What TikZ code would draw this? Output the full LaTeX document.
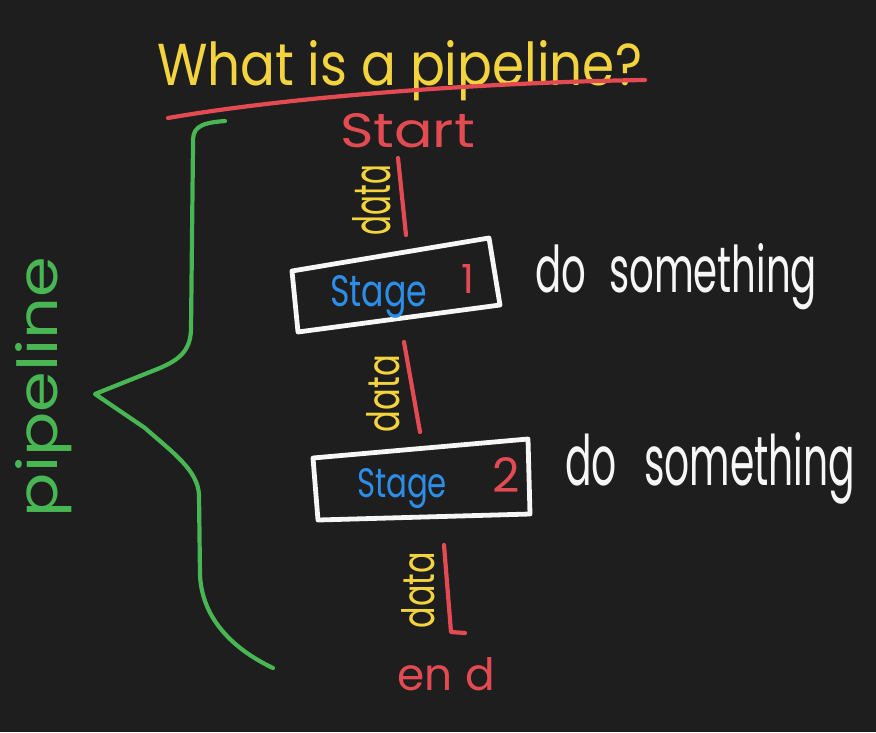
\documentclass[tikz,border=0pt]{standalone}
\usepackage{fontspec}
\usepackage{graphicx}
\setmainfont{Poppins}
\definecolor{bg}{RGB}{30,30,30}
\definecolor{hyellow}{RGB}{243,212,62}
\definecolor{hred}{RGB}{228,74,82}
\definecolor{hblue}{RGB}{44,142,232}
\definecolor{hgreen}{RGB}{72,182,82}
\definecolor{hwhite}{RGB}{246,246,246}
\begin{document}
\begin{tikzpicture}[x=1pt,y=-1pt,line cap=round,line join=round,
  ink/.style={line width=4.2pt},
  txt/.style={inner sep=0pt,outer sep=0pt,anchor=base west},
  vtxt/.style={inner sep=0pt,outer sep=0pt,anchor=base west,rotate=90},
  stagebox/.style={draw=hwhite,line width=4.8pt}]
\fill[bg] (0,0) rectangle (876,732);
\useasboundingbox (0,0) rectangle (876,732);

% title
\node[txt,text=hyellow] (title) at (157,85) {\resizebox{485pt}{45pt}{What is a pipeline?}};
\coordinate (ul1) at (168,118);
\coordinate (ul2) at (645,80);
\draw[hred,ink] (ul1) .. controls (300,95) and (500,82) .. (ul2);

% start
\node[txt,text=hred] (start) at (340,147) {\resizebox{135pt}{34pt}{Start}};

% data 1
\node[vtxt,text=hyellow] (data1) at (390,235) {\resizebox{70pt}{38pt}{data}};
\coordinate (d1a) at (398,158);
\coordinate (d1b) at (406,235);
\draw[hred,ink] (d1a) -- (d1b);

% stage 1
\coordinate (b1a) at (292,271);
\coordinate (b1b) at (489,238);
\coordinate (b1c) at (500,305);
\coordinate (b1d) at (298,332);
\draw[stagebox] (b1a) -- (b1b) -- (b1c) -- (b1d) -- cycle;
\node[txt,text=hblue] (s1) at (330,306) {\resizebox{97pt}{31pt}{Stage}};
\node[inner sep=0pt,anchor=base,text=hred] (s1n) at (468,293) {\resizebox{!}{29pt}{1}};
\node[txt,text=hwhite] (do1) at (535,292) {\resizebox{282pt}{49pt}{do\hspace{0.6em}something}};

% data 2
\node[vtxt,text=hyellow] (data2) at (399,432) {\resizebox{77pt}{33pt}{data}};
\coordinate (d2a) at (404,342);
\coordinate (d2b) at (420,432);
\draw[hred,ink] (d2a) -- (d2b);

% stage 2
\coordinate (b2a) at (313,458);
\coordinate (b2b) at (528,439);
\coordinate (b2c) at (530,514);
\coordinate (b2d) at (318,520);
\draw[stagebox] (b2a) -- (b2b) -- (b2c) -- (b2d) -- cycle;
\node[txt,text=hblue] (s2) at (357,497) {\resizebox{90pt}{29pt}{Stage}};
\node[inner sep=0pt,anchor=base,text=hred] (s2n) at (506,492) {\resizebox{!}{35pt}{2}};
\node[txt,text=hwhite] (do2) at (565,485) {\resizebox{290pt}{53pt}{do\hspace{0.7em}something}};

% data 3
\node[vtxt,text=hyellow] (data3) at (434,628) {\resizebox{76pt}{33pt}{data}};
\coordinate (d3a) at (444,545);
\coordinate (d3b) at (451,632);
\coordinate (d3c) at (465,633);
\draw[hred,ink] (d3a) -- (d3b) -- (d3c);

% end
\node[txt,text=hred] (endn) at (397,690) {\resizebox{98pt}{33pt}{en\hspace{0.3em}d}};

% brace + pipeline
\coordinate (br1) at (225,121);
\coordinate (br2) at (191,330);
\coordinate (tip) at (95,394);
\coordinate (br3) at (199,495);
\coordinate (br4) at (273,668);
\draw[hgreen,ink] (br1) .. controls (198,123) and (192,128) .. (193,145)
  -- (br2) .. controls (190,352) and (178,360) .. (160,368)
  -- (tip) -- (145,428) .. controls (172,452) and (198,470) .. (br3)
  -- (200,575) .. controls (202,620) and (235,650) .. (br4);
\node[vtxt,text=hgreen] (pipe) at (57,517) {\resizebox{260pt}{42pt}{pipeline}};
\end{tikzpicture}
\end{document}
